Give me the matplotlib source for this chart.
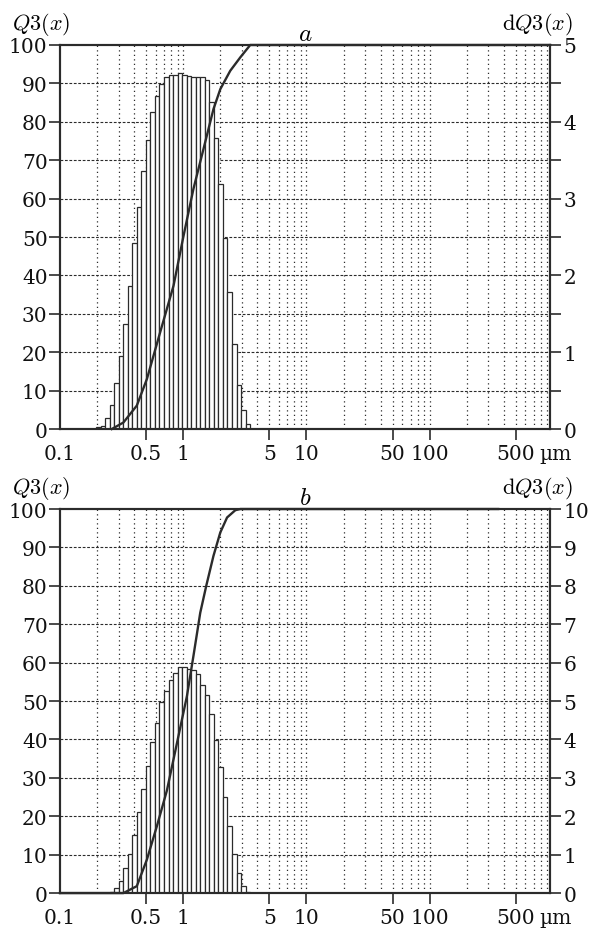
import numpy as np
import matplotlib
matplotlib.use('Agg')
import matplotlib.pyplot as plt
from matplotlib.ticker import FixedLocator, MultipleLocator, NullFormatter

plt.rcParams['font.family'] = 'DejaVu Serif'
plt.rcParams['mathtext.fontset'] = 'cm'

# size classes (um): geometric grid, first lower edge and class ratio
edge0 = 0.196
ratio = 1.0884

# panel a
start_a = 0
dq3_a = [0.02, 0.045, 0.145, 0.31, 0.60, 0.95, 1.365, 1.865, 2.42, 2.89,
         3.365, 3.765, 4.125, 4.335, 4.49, 4.58, 4.61, 4.61, 4.635, 4.61,
         4.59, 4.58, 4.58, 4.58, 4.55, 4.26, 3.79, 3.19, 2.485, 1.79,
         1.105, 0.575, 0.245, 0.065]
x_a = [0.263, 0.327, 0.420, 0.507, 0.650, 0.834, 1.006, 1.21, 1.46, 1.76,
       2.0, 2.41, 2.91, 3.5, 950]
q3_a = [0, 1.7, 6.1, 13, 25.2, 37.3, 50.3, 62.5, 72.9, 83.3,
        88.5, 93.3, 96.8, 100, 100]

# panel b
start_b = 3
dq3_b = [0.03, 0.14, 0.31, 0.65, 1.02, 1.52, 2.11, 2.72, 3.30, 3.94,
         4.43, 4.97, 5.27, 5.54, 5.72, 5.89, 5.89, 5.84, 5.81, 5.70,
         5.43, 5.15, 4.65, 3.98, 3.29, 2.50, 1.74, 1.02, 0.53, 0.18, 0.03]
x_b = [0.1, 0.327, 0.420, 0.507, 0.611, 0.737, 0.889, 1.072, 1.21, 1.375,
       1.538, 1.76, 2.0, 2.27, 2.65, 2.91, 360]
q3_b = [0, 0, 1.8, 8.7, 17.4, 26.7, 39, 51.3, 61.7, 73,
        80, 87.8, 93.9, 97.8, 99.7, 100, 100]

xticks = [0.1, 0.5, 1, 5, 10, 50, 100, 500]
xticklabels = ['0.1', '0.5', '1', '5', '10', '50', '100', '500']

ink = '#2b2b2b'
fig = plt.figure(figsize=(5.89, 9.29), dpi=100)


def panel(rect, start, dq3, xq, q3, rmax, rminor, title):
    ax2 = fig.add_axes(rect)
    ax = ax2.twinx()
    # left axis (Q3) lives on the twin, drawn on top of the bars
    ax.yaxis.set_label_position('left')
    ax.yaxis.tick_left()
    ax2.yaxis.set_label_position('right')
    ax2.yaxis.tick_right()

    k = np.arange(start, start + len(dq3) + 1)
    edges = edge0 * ratio ** k
    ax2.set_xscale('log')
    ax2.set_xlim(0.1, 950)
    ax2.set_ylim(0, rmax)
    ax.set_ylim(0, 100)

    grid_x = [m * 10.0 ** d for d in range(-1, 3) for m in range(1, 10)][1:]
    for gx in grid_x:
        ax2.axvline(gx, color=ink, lw=0.9, ls=(0, (1, 2.6)), zorder=0)
    for gy in np.arange(rminor, rmax, rminor):
        ax2.axhline(gy, color=ink, lw=0.8, ls=(0, (2.5, 1.5)), zorder=0)

    ax2.bar(edges[:-1], dq3, width=np.diff(edges), align='edge',
            facecolor='white', edgecolor=ink, lw=0.9, zorder=2)
    ax.plot(xq, q3, color=ink, lw=1.7, zorder=3, clip_on=False)

    ax2.xaxis.set_major_locator(FixedLocator(xticks))
    ax2.set_xticklabels(xticklabels)
    ax2.xaxis.set_minor_locator(FixedLocator([]))
    ax2.xaxis.set_minor_formatter(NullFormatter())
    ax2.xaxis.get_majorticklines()[0].set_visible(False)

    ax.yaxis.set_major_locator(MultipleLocator(10))
    ax2.yaxis.set_major_locator(MultipleLocator(1))
    if rminor < 1:
        ax2.yaxis.set_minor_locator(MultipleLocator(rminor))

    for a in (ax, ax2):
        a.tick_params(which='both', direction='out', length=8, width=1.2,
                      color=ink, labelcolor='#111111', labelsize=14.5)
        for s in a.spines.values():
            s.set_linewidth(1.5)
            s.set_color(ink)
    ax.tick_params(axis='y', pad=1.0)
    ax2.tick_params(axis='y', pad=1.5)
    ax2.tick_params(axis='x', pad=2.5)

    ax.text(0.978, -0.077, 'µm', transform=ax.transAxes, fontsize=14.5,
            color='#111111', ha='left', va='baseline')
    ax.set_title(title, fontsize=18, pad=1)
    return ax, ax2


panel([0.1019, 0.5371, 0.832, 0.4134], start_a, dq3_a, x_a, q3_a, 5, 0.5, '$a$')
panel([0.1019, 0.0376, 0.832, 0.4134], start_b, dq3_b, x_b, q3_b, 10, 1, '$b$')

fig.text(0.020, 0.974, '$Q3(x)$', fontsize=16, ha='left', va='center')
fig.text(0.973, 0.974, r'$\mathrm{d}Q3(x)$', fontsize=16, ha='right', va='center')
fig.text(0.020, 0.474, '$Q3(x)$', fontsize=16, ha='left', va='center')
fig.text(0.973, 0.474, r'$\mathrm{d}Q3(x)$', fontsize=16, ha='right', va='center')

fig.savefig('out.png', dpi=100)
